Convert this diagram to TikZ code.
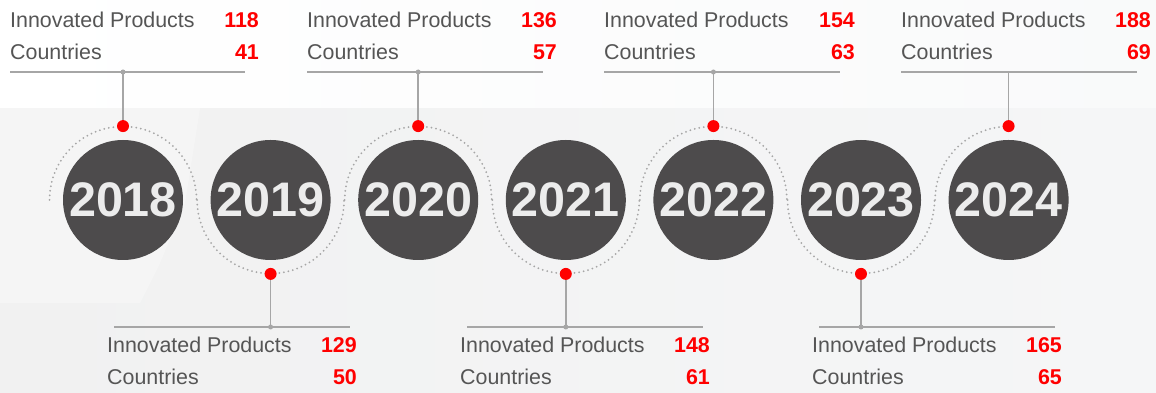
\documentclass[tikz,border=0pt]{standalone}
\usepackage{fontspec}
\setmainfont{Liberation Sans}
\usetikzlibrary{positioning}
\definecolor{mdark}{HTML}{4D4B4C}
\definecolor{myear}{HTML}{ECECEC}
\definecolor{mtext}{HTML}{555555}
\definecolor{mline}{HTML}{A6A6A6}
\definecolor{mred}{HTML}{FF0000}
\definecolor{mbgl}{HTML}{F1F1F1}
\definecolor{mbgr}{HTML}{F5F6F7}
\tikzstyle{year} = [circle, minimum size = 120pt, inner sep = 0pt, fill = mdark, text = myear, font = \fontsize{48.5}{58}\selectfont\bfseries]
\tikzstyle{marker} = [circle, minimum size = 12pt, inner sep = 0pt, fill = mred]
\tikzstyle{joint} = [circle, minimum size = 5pt, inner sep = 0pt, fill = mline]
\tikzstyle{caption} = [inner sep = 0pt, anchor = base west, text = mtext, font = \fontsize{21.4}{24}\selectfont]
\tikzstyle{amount} = [inner sep = 0pt, anchor = base east, text = mred, font = \fontsize{21.4}{24}\selectfont\bfseries]
\tikzstyle{trail} = [mline, line width = 2pt, line cap = round, dash pattern = on 0pt off 4.6pt]
\tikzstyle{stem} = [mline, line width = 1.6pt]

\begin{document}
\begin{tikzpicture}[x = 1pt, y = 1pt, node distance = 27.2pt]
  \useasboundingbox (0,0) rectangle (1156,393);
  % background
  \shade[left color = mbgl, right color = mbgr] (0,0) rectangle (1156,393);
  \shade[left color = white, right color = mbgr!60!white] (0,285) rectangle (1156,393);
  \fill[white, opacity = 0.3] (0,393) -- (205,393) -- (200,285) -- (185,190) -- (160,130) -- (140,90) -- (0,90) -- cycle;

  % years
  \node (y2018) [year] at (123,193) {2018};
  \node (y2019) [year, right = of y2018] {2019};
  \node (y2020) [year, right = of y2019] {2020};
  \node (y2021) [year, right = of y2020] {2021};
  \node (y2022) [year, right = of y2021] {2022};
  \node (y2023) [year, right = of y2022] {2023};
  \node (y2024) [year, right = of y2023] {2024};

  % dotted trail
  \draw [trail] (y2018.center) ++(180:73.5) arc (180:0:73.5);
  \draw [trail] (y2019.center) ++(180:73.5) arc (180:360:73.5);
  \draw [trail] (y2020.center) ++(180:73.5) arc (180:0:73.5);
  \draw [trail] (y2021.center) ++(180:73.5) arc (180:360:73.5);
  \draw [trail] (y2022.center) ++(180:73.5) arc (180:0:73.5);
  \draw [trail] (y2023.center) ++(180:73.5) arc (180:360:73.5);
  \draw [trail] (y2024.center) ++(180:73.5) arc (180:90:73.5);

  % markers
  \node (m2018) [marker, above = 7.5pt of y2018] {};
  \node (m2019) [marker, below = 7.5pt of y2019] {};
  \node (m2020) [marker, above = 7.5pt of y2020] {};
  \node (m2021) [marker, below = 7.5pt of y2021] {};
  \node (m2022) [marker, above = 7.5pt of y2022] {};
  \node (m2023) [marker, below = 7.5pt of y2023] {};
  \node (m2024) [marker, above = 7.5pt of y2024] {};

  \coordinate (topline) at (0,321);
  \coordinate (botline) at (0,66);

  % upper captions
  \node (p2018) [caption] at (10,365) {Innovated Products};
  \node (c2018) [caption] at (10,333) {Countries};
  \node [amount] at (259,365) {118};
  \node [amount] at (259,333) {41};
  \node (p2020) [caption] at (307,365) {Innovated Products};
  \node (c2020) [caption] at (307,333) {Countries};
  \node [amount] at (557,365) {136};
  \node [amount] at (557,333) {57};
  \node (p2022) [caption] at (604,365) {Innovated Products};
  \node (c2022) [caption] at (604,333) {Countries};
  \node [amount] at (855,365) {154};
  \node [amount] at (855,333) {63};
  \node (p2024) [caption] at (901,365) {Innovated Products};
  \node (c2024) [caption] at (901,333) {Countries};
  \node [amount] at (1151,365) {188};
  \node [amount] at (1151,333) {69};

  % lower captions
  \node (p2019) [caption] at (107,40) {Innovated Products};
  \node (c2019) [caption] at (107,8) {Countries};
  \node [amount] at (357,40) {129};
  \node [amount] at (357,8) {50};
  \node (p2021) [caption] at (460,40) {Innovated Products};
  \node (c2021) [caption] at (460,8) {Countries};
  \node [amount] at (710,40) {148};
  \node [amount] at (710,8) {61};
  \node (p2023) [caption] at (812,40) {Innovated Products};
  \node (c2023) [caption] at (812,8) {Countries};
  \node [amount] at (1062,40) {165};
  \node [amount] at (1062,8) {65};

  % rules and stems
  \coordinate (j2018) at (m2018 |- topline);
  \coordinate (j2020) at (m2020 |- topline);
  \coordinate (j2022) at (m2022 |- topline);
  \coordinate (j2024) at (m2024 |- topline);
  \coordinate (j2019) at (m2019 |- botline);
  \coordinate (j2021) at (m2021 |- botline);
  \coordinate (j2023) at (m2023 |- botline);
  \draw [stem] (c2018.west |- j2018) -- ++(235,0);
  \draw [stem] (c2020.west |- j2020) -- ++(236,0);
  \draw [stem] (c2022.west |- j2022) -- ++(236,0);
  \draw [stem] (c2024.west |- j2024) -- ++(236,0);
  \draw [stem] (p2019.west |- j2019) ++(7,0) -- ++(236,0);
  \draw [stem] (p2021.west |- j2021) ++(7,0) -- ++(236,0);
  \draw [stem] (p2023.west |- j2023) ++(7,0) -- ++(236,0);
  \draw [stem] (m2018) -- (j2018);
  \draw [stem] (m2020) -- (j2020);
  \draw [stem] (m2022) -- (j2022);
  \draw [stem] (m2024) -- (j2024);
  \draw [stem] (m2019) -- (j2019);
  \draw [stem] (m2021) -- (j2021);
  \draw [stem] (m2023) -- (j2023);
  \node [joint] at (j2018) {};
  \node [joint] at (j2020) {};
  \node [joint] at (j2022) {};
  \node [joint] at (j2019) {};
  \node [joint] at (j2021) {};
  \node [joint] at (j2023) {};
\end{tikzpicture}
\end{document}
